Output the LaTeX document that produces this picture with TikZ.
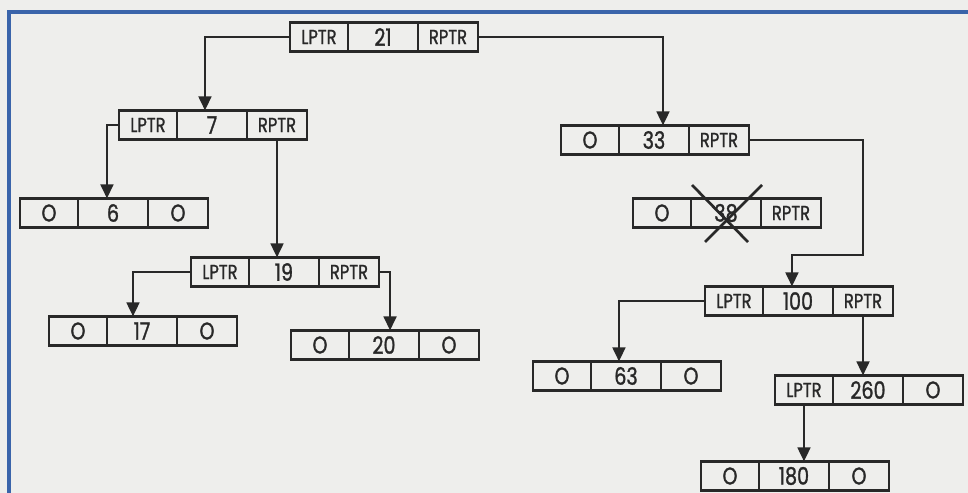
\documentclass[tikz,border=0pt]{standalone}
\usepackage{fontspec}
\newfontfamily\recfont[FakeStretch=0.8, FakeBold=1.2]{Poppins}
\usepackage{xcolor}
\definecolor{ink}{RGB}{40,40,40}
\definecolor{paper}{RGB}{238,238,236}
\definecolor{frameblue}{RGB}{58,100,170}
\usetikzlibrary{arrows.meta,positioning}

\begin{document}
\begin{tikzpicture}[
    x=0.025cm, y=-0.025cm,
    cell/.style={rectangle, draw=ink, line width=1.9pt, outer sep=0pt, inner sep=0pt, minimum height=0.725cm, text=ink},
    keycell/.style={cell, minimum width=1.75cm, font=\recfont\fontsize{17}{17}\selectfont},
    lcell/.style={cell, minimum width=1.45cm, font=\recfont\fontsize{14.5}{15}\selectfont},
    rcell/.style={cell, minimum width=1.5cm, font=\recfont\fontsize{14.5}{15}\selectfont},
    nil/.style={font=\recfont\fontsize{17}{17}\selectfont},
    arrow/.style={-{Triangle[width=9pt,length=10pt]}, draw=ink, line width=1.9pt},
]

% page and frame
\fill[paper] (0,0) rectangle (968,493);
\useasboundingbox (0,0) rectangle (968,493);
\draw[frameblue, line width=2.4pt] (9,493) -- (9,12) -- (968,12);

% root
\node[keycell] (n21) at (383,37) {21};
\node[lcell, left=0pt of n21] (n21l) {LPTR};
\node[rcell, right=0pt of n21] (n21r) {RPTR};

% left subtree
\node[keycell] (n7) at (212,125) {7};
\node[lcell, left=0pt of n7] (n7l) {LPTR};
\node[rcell, right=0pt of n7] (n7r) {RPTR};

\node[keycell] (n6) at (113,213) {6};
\node[lcell, nil, left=0pt of n6] (n6l) {O};
\node[rcell, nil, right=0pt of n6] (n6r) {O};

\node[keycell] (n19) at (284,272) {19};
\node[lcell, left=0pt of n19] (n19l) {LPTR};
\node[rcell, right=0pt of n19] (n19r) {RPTR};

\node[keycell] (n17) at (142,331) {17};
\node[lcell, nil, left=0pt of n17] (n17l) {O};
\node[rcell, nil, right=0pt of n17] (n17r) {O};

\node[keycell] (n20) at (384,345) {20};
\node[lcell, nil, left=0pt of n20] (n20l) {O};
\node[rcell, nil, right=0pt of n20] (n20r) {O};

% right subtree
\node[keycell] (n33) at (654,140) {33};
\node[lcell, nil, left=0pt of n33] (n33l) {O};
\node[rcell, right=0pt of n33] (n33r) {RPTR};

\node[keycell] (n38) at (726,213) {38};
\node[lcell, nil, left=0pt of n38] (n38l) {O};
\node[rcell, right=0pt of n38] (n38r) {RPTR};

\node[keycell] (n100) at (798,301) {100};
\node[lcell, left=0pt of n100] (n100l) {LPTR};
\node[rcell, right=0pt of n100] (n100r) {RPTR};

\node[keycell] (n63) at (626,376) {63};
\node[lcell, nil, left=0pt of n63] (n63l) {O};
\node[rcell, nil, right=0pt of n63] (n63r) {O};

\node[keycell] (n260) at (868,390) {260};
\node[lcell, left=0pt of n260] (n260l) {LPTR};
\node[rcell, nil, right=0pt of n260] (n260r) {O};

\node[keycell] (n180) at (794,476) {180};
\node[lcell, nil, left=0pt of n180] (n180l) {O};
\node[rcell, nil, right=0pt of n180] (n180r) {O};

% deleted node
\draw[ink, line width=1.9pt] (692,185) -- (748,242) (762,185) -- (705,242);

% pointers
\draw[arrow] (n21l.west) -| ([xshift=-5pt]n7.north);
\draw[arrow] (n21r.east) -| ([xshift=6.4pt]n33.north);
\draw[arrow] (n7l.west) -| ([xshift=-4.3pt]n6.north);
\draw[arrow] (n7r.south) -- (n7r.south |- n19.north);
\draw[arrow] (n19l.west) -| ([xshift=-6.4pt]n17.north);
\draw[arrow] (n19r.east) -| ([xshift=4.3pt]n20.north);
\coordinate (bend) at (863,255);
\draw[arrow] (n33r.east) -| (bend) -| ([xshift=-4.3pt]n100.north);
\draw[arrow] (n100l.west) -| ([xshift=-5pt]n63.north);
\draw[arrow] (n100r.south) -- (n100r.south |- n260.north);
\draw[arrow] (n260l.south) -- (n260l.south |- n180.north);

\end{tikzpicture}
\end{document}
